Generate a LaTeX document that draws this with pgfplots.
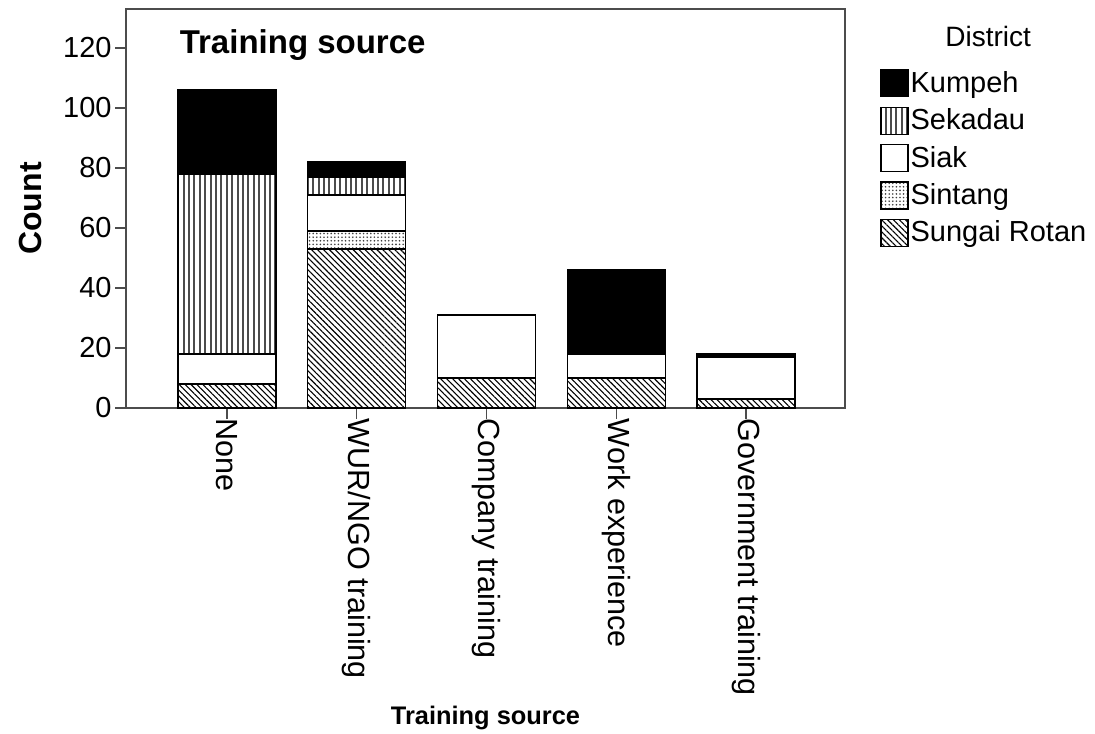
\documentclass[border=0pt]{standalone}
\usepackage{pgfplots}
\pgfplotsset{compat=1.18}
\usepackage{fontspec}
\setmainfont{Liberation Sans}
\usetikzlibrary{patterns.meta}

% counts per training source, bottom to top of each stack
% 0 None, 1 WUR/NGO training, 2 Company training, 3 Work experience, 4 Government training
\newcommand{\rotan}{(0,8) (1,53) (2,10) (3,10) (4,3)}
\newcommand{\sintang}{(0,0) (1,6) (2,0) (3,0) (4,0)}
\newcommand{\siak}{(0,10) (1,12) (2,21) (3,8) (4,14)}
\newcommand{\sekadau}{(0,60) (1,6) (2,0) (3,0) (4,0)}
\newcommand{\kumpeh}{(0,28) (1,5) (2,0) (3,28) (4,1)}

\begin{document}
\begin{tikzpicture}
\begin{axis}[
    scale only axis,
    width=359.5pt, height=199.5pt,
    clip=false,
    ybar stacked,
    bar width=49pt,
    xmin=-0.778, xmax=4.763,
    ymin=0, ymax=133,
    ytick={0,20,40,60,80,100,120},
    /pgf/number format/assume math mode=true,
    yticklabel={\hbox{\color{black}\fontsize{14.5}{16}\selectfont\pgfmathprintnumber{\tick}}},
    yticklabel style={inner sep=1.5pt, font=\Huge},
    xtick=data,
    xticklabels={None,WUR/NGO training,Company training,Work experience,Government training},
    xticklabel style={rotate=-90, anchor=west, inner sep=0.5pt, font=\fontsize{15.3}{17}\selectfont},
    xticklabel shift=-0.8pt,
    tick align=outside,
    tick pos=left,
    major tick length=5.5pt,
    axis line style={draw=black!70, line width=0.7pt},
    every tick/.style={black!70, line width=0.7pt},
    xlabel={Training source},
    xlabel style={at={(rel axis cs:0.5,-0.777)}, anchor=center, font=\bfseries\fontsize{12.7}{14}\selectfont},
    ylabel={Count},
    ylabel style={at={(rel axis cs:-0.1335,0.5)}, anchor=center, rotate=0, font=\bfseries\fontsize{16}{18}\selectfont},
    every axis plot/.append style={draw=black, line width=0.6pt},
    reverse legend,
    legend style={draw=none, fill=none, at={(rel axis cs:1.0403,0.86)}, anchor=north west,
        font=\fontsize{14.5}{16}\selectfont,
        nodes={inner sep=1pt, anchor=west},
        row sep=4.6pt},
    legend image code/.code={\draw[#1] (0pt,-6.75pt) rectangle (13.5pt,6.75pt);},
]
\addplot[pattern={Lines[angle=-45,distance=2.1pt,line width=0.55pt]}] coordinates {\rotan};
\addplot[pattern={Dots[distance=1.8pt,radius=0.45pt]}, pattern color=black!75] coordinates {\sintang};
\addplot[fill=white] coordinates {\siak};
\addplot[pattern={Lines[angle=90,distance=2.7pt,line width=1pt]}, pattern color=black!70] coordinates {\sekadau};
\addplot[fill=black] coordinates {\kumpeh};
\legend{Sungai Rotan,Sintang,Siak,Sekadau,Kumpeh}
\node[anchor=west, font=\bfseries\fontsize{16.5}{18}\selectfont] at (rel axis cs:0.065,0.91) {Training source};
\node[font=\fontsize{14}{16}\selectfont] at (rel axis cs:1.199,0.93) {District};
\coordinate (bl) at (rel axis cs:-0.17524,-0.81704);
\coordinate (tr) at (rel axis cs:1.34771,1.02256);
\end{axis}
\pgfresetboundingbox
\useasboundingbox (bl) rectangle (tr);
\end{tikzpicture}
\end{document}
